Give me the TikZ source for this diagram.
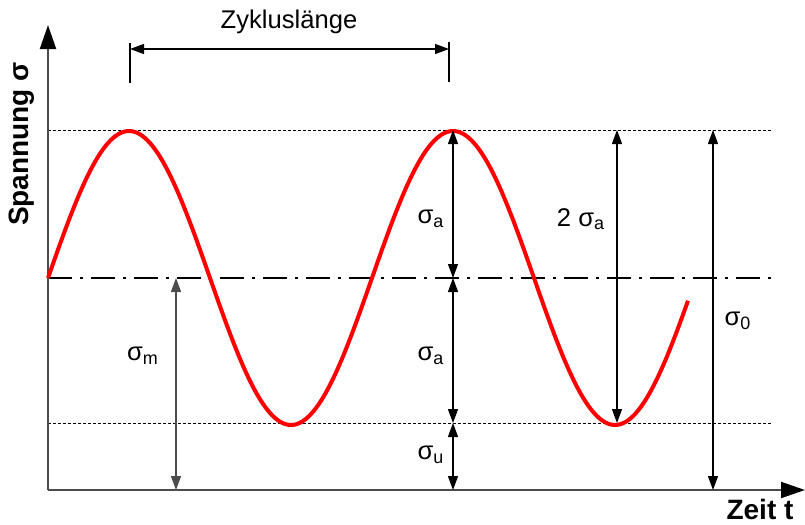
\documentclass[tikz,border=0pt]{standalone}
\usepackage{fontspec}
\setmainfont{Liberation Sans}
\usepackage{tikz}
\usetikzlibrary{arrows.meta, positioning, calc}

\tikzset{
    dim/.style={line width=0.65pt, {Triangle[length=7pt,width=5pt]}-{Triangle[length=7pt,width=5pt]}},
    axis/.style={line width=1pt, black!70, -{Triangle[length=12pt,width=8pt,color=black]}},
    level/.style={line width=0.5pt, dash pattern=on 1.5pt off 1pt},
    mean/.style={line width=1.2pt, dash pattern=on 12pt off 4pt on 1.5pt off 4pt},
    lbl/.style={font=\fontsize{12.8}{15}\selectfont, inner sep=0pt},
    axlbl/.style={font=\fontsize{14}{16}\selectfont\bfseries, inner sep=0pt},
}

\begin{document}
\begin{tikzpicture}[x=0.5pt, y=-0.5pt]
\useasboundingbox (0,0) rectangle (805,525);

% reference points
\coordinate (O) at (48,490);
\coordinate (ytip) at (48,25);
\coordinate (xtip) at (805,490);
\coordinate (m0) at (48,278);  \coordinate (m1) at (772,278);
\coordinate (t0) at (48,130);  \coordinate (t1) at (772,130);
\coordinate (b0) at (48,423);  \coordinate (b1) at (772,423);

% levels
\draw[level] (t0) -- (t1);
\draw[level] (b0) -- (b1);
\draw[mean] (m0) -- (m1);

% axes
\draw[axis] (O) -- (ytip);
\draw[axis] (O) -- (xtip);
\node[axlbl, rotate=90] (ylab) at (22,144) {Spannung σ};
\node[axlbl] (xlab) at (760,509) {Zeit t};

% signal
\draw[red, line width=2pt, line join=round]
    plot[domain=48:688, samples=240] (\x, {278-147*cos((\x-129)/0.9)});

% cycle length
\coordinate (c0) at (130,49); \coordinate (c1) at (449,49);
\draw[line width=0.65pt] (130,43) -- (130,83) (449,42) -- (449,82);
\draw[dim] (c0) -- (c1);
\node[lbl] (cyc) at (289,22) {Zykluslänge};

% amplitudes at second peak
\coordinate (pk) at (453,130);
\coordinate (pm) at (453,278);
\coordinate (pb) at (453,423);
\coordinate (px) at (453,490);
\draw[dim] (pk) -- (pm);
\draw[dim] (pm) -- (pb);
\draw[dim] (pb) -- (px);
\node[lbl] (sa1) at (431,219) {σ\textsubscript{a}};
\node[lbl] (sa2) at (431,356) {σ\textsubscript{a}};
\node[lbl] (su) at (431,455) {σ\textsubscript{u}};

% range
\coordinate (r0) at (617,130); \coordinate (r1) at (617,423);
\draw[dim] (r0) -- (r1);
\node[lbl] (s2a) at (581,219) {2 σ\textsubscript{a}};

% upper stress
\coordinate (o0) at (713,130); \coordinate (o1) at (713,490);
\draw[dim] (o0) -- (o1);
\node[lbl] (so) at (738,321) {σ\textsubscript{0}};

% mean stress
\coordinate (mm0) at (176,278); \coordinate (mm1) at (176,490);
\draw[dim, black!70] (mm0) -- (mm1);
\node[lbl] (sm) at (143,356) {σ\textsubscript{m}};
\end{tikzpicture}
\end{document}
